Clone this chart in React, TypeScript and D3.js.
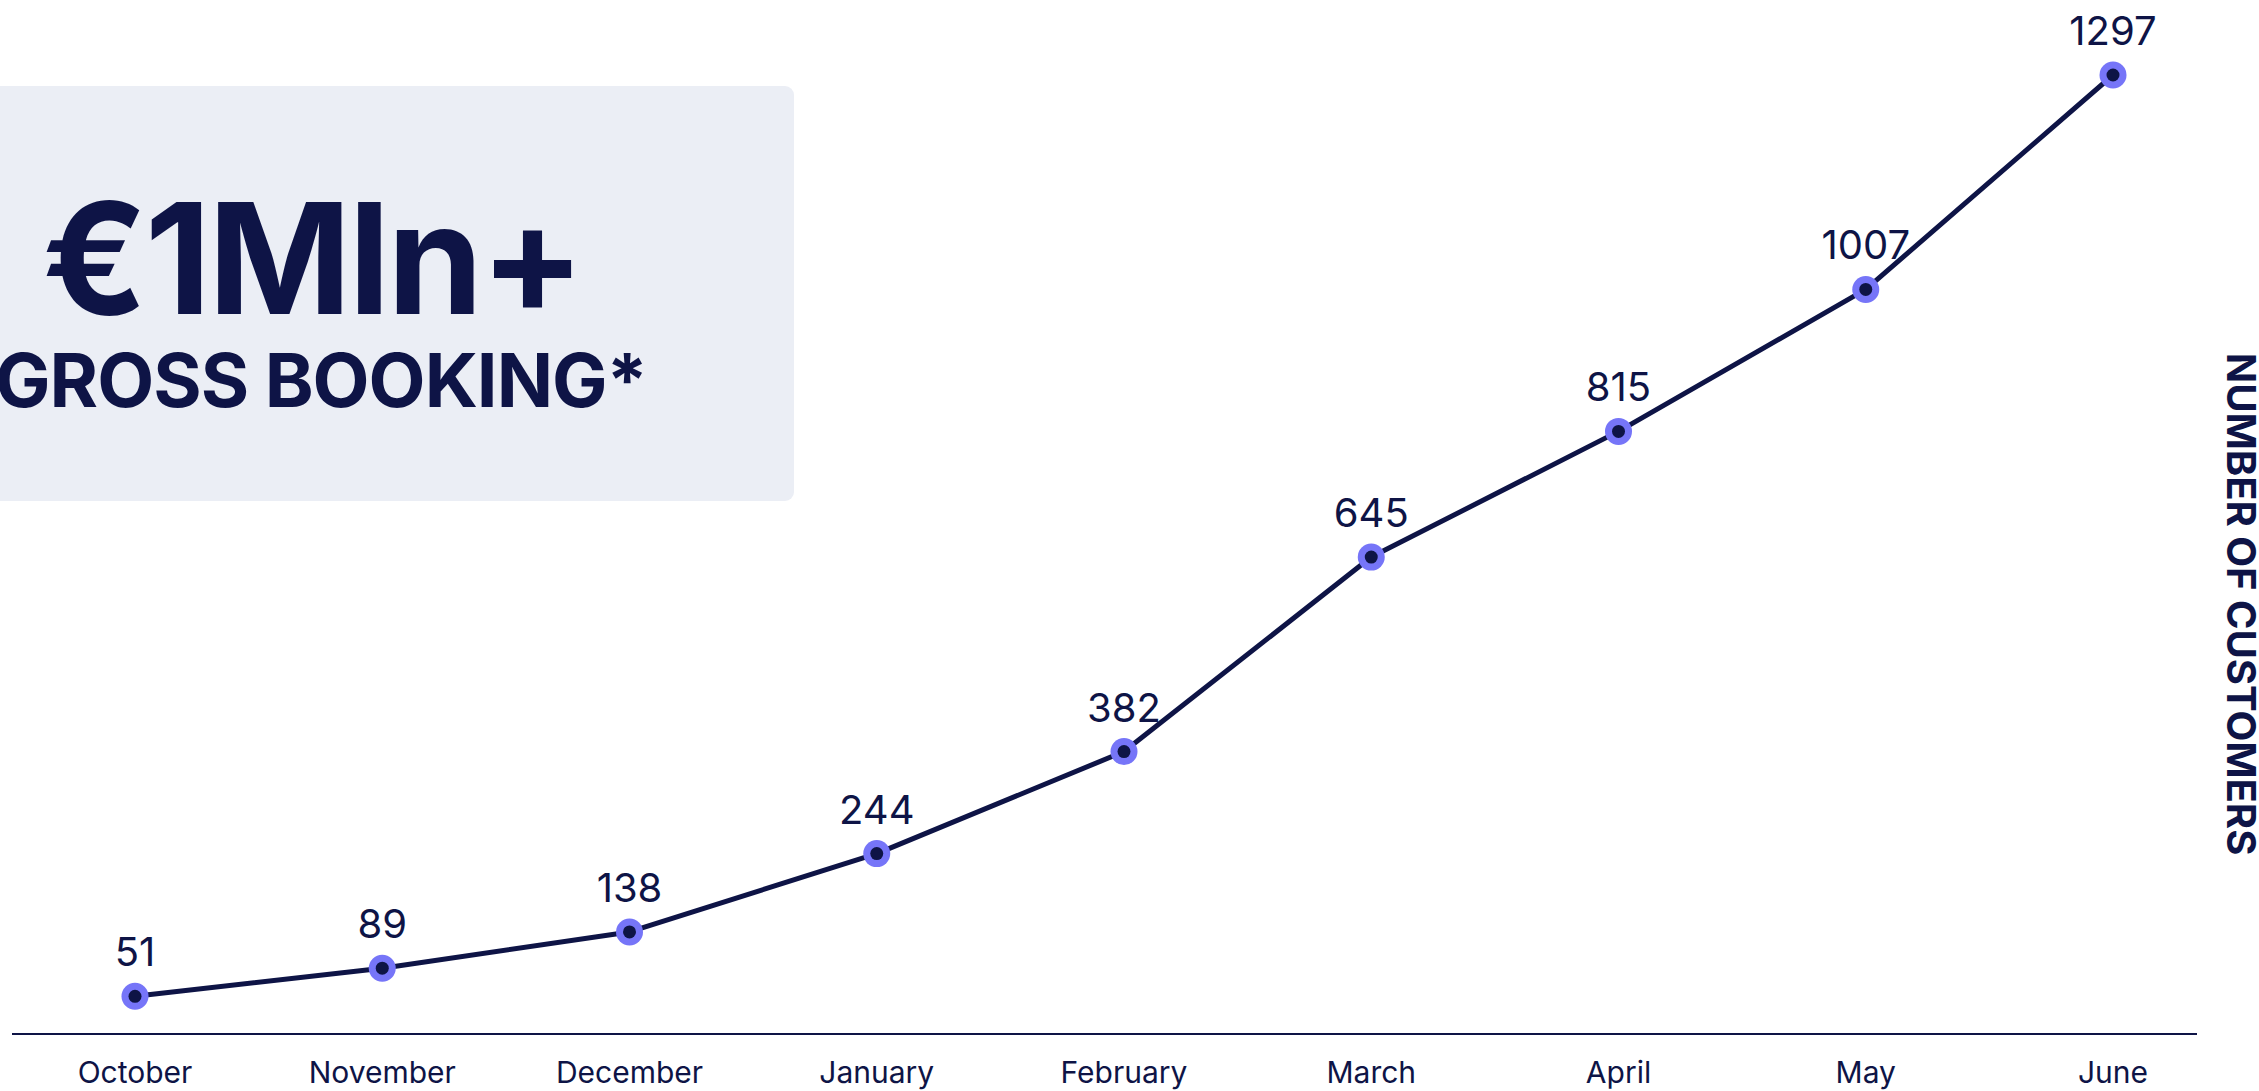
import React, { useEffect, useRef } from "react";
import * as d3 from "d3";

// months on the x axis
const months = [
  "October",
  "November",
  "December",
  "January",
  "February",
  "March",
  "April",
  "May",
  "June",
];

// number of customers per month
const customers = [51, 89, 138, 244, 382, 645, 815, 1007, 1297];

const headline = "€1Mln+";
const subline = "GROSS BOOKING*";
const axisTitle = "NUMBER OF CUSTOMERS";

const NAVY = "#0e1446";
const PURPLE = "#7675f8";
const BOX = "#ebeef5";

const App = () => {
  const ref = useRef<SVGSVGElement>(null);

  useEffect(() => {
    const width = 2259,
      height = 1091;
    const svg = d3.select(ref.current);
    svg.selectAll("*").remove();

    var x = d3.scalePoint<string>().domain(months).range([135, 2113]);
    var y = d3.scaleLinear().domain([0, 1297]).range([1034, 75]);

    // headline box on the left
    svg
      .append("rect")
      .attr("x", -170)
      .attr("y", 86)
      .attr("width", 964)
      .attr("height", 415)
      .attr("rx", 9)
      .attr("fill", BOX);

    svg
      .append("text")
      .attr("x", 312)
      .attr("y", 314)
      .attr("text-anchor", "middle")
      .attr("font-family", "Inter, sans-serif")
      .attr("font-weight", 700)
      .attr("font-size", 154)
      .attr("letter-spacing", -3)
      .attr("fill", NAVY)
      .text(headline);

    svg
      .append("text")
      .attr("x", 321)
      .attr("y", 407)
      .attr("text-anchor", "middle")
      .attr("font-family", "Inter, sans-serif")
      .attr("font-weight", 700)
      .attr("font-size", 74)
      .attr("letter-spacing", -1)
      .attr("fill", NAVY)
      .text(subline);

    // baseline
    svg
      .append("line")
      .attr("x1", 12)
      .attr("x2", 2197)
      .attr("y1", y(0))
      .attr("y2", y(0))
      .attr("stroke", NAVY)
      .attr("stroke-width", 2);

    // month labels
    svg
      .append("g")
      .selectAll("text")
      .data(months)
      .enter()
      .append("text")
      .attr("x", (d) => x(d) as number)
      .attr("y", 1083)
      .attr("text-anchor", "middle")
      .attr("font-family", "Inter, sans-serif")
      .attr("font-size", 30)
      .attr("fill", NAVY)
      .text((d) => d);

    const data = months.map((m, i) => ({ month: m, value: customers[i] }));

    var valueLine = d3
      .line<{ month: string; value: number }>()
      .x((d) => x(d.month) as number)
      .y((d) => y(d.value));

    svg
      .append("path")
      .datum(data)
      .attr("fill", "none")
      .attr("stroke", NAVY)
      .attr("stroke-width", 5)
      .attr("stroke-linejoin", "round")
      .attr("d", valueLine);

    svg
      .selectAll("circle.outer")
      .data(data)
      .enter()
      .append("circle")
      .attr("class", "outer")
      .attr("cx", (d) => x(d.month) as number)
      .attr("cy", (d) => y(d.value))
      .attr("r", 13.5)
      .attr("fill", PURPLE);

    svg
      .selectAll("circle.inner")
      .data(data)
      .enter()
      .append("circle")
      .attr("class", "inner")
      .attr("cx", (d) => x(d.month) as number)
      .attr("cy", (d) => y(d.value))
      .attr("r", 6.5)
      .attr("fill", NAVY);

    // value labels
    svg
      .append("g")
      .selectAll("text")
      .data(data)
      .enter()
      .append("text")
      .attr("x", (d) => x(d.month) as number)
      .attr("y", (d) => y(d.value) - 30)
      .attr("text-anchor", "middle")
      .attr("font-family", "Inter, sans-serif")
      .attr("font-size", 40)
      .attr("fill", NAVY)
      .text((d) => d.value);

    // right side title, reading top to bottom
    svg
      .append("text")
      .attr("transform", `translate(2227, 604) rotate(90)`)
      .attr("text-anchor", "middle")
      .attr("font-family", "Inter, sans-serif")
      .attr("font-weight", 700)
      .attr("font-size", 40)
      .attr("fill", NAVY)
      .text(axisTitle);

    svg.attr("width", width).attr("height", height);
  }, []);

  return (
    <svg
      ref={ref}
      width={2259}
      height={1091}
      style={{ position: "absolute", left: 0, top: 0, background: "#fff" }}
    />
  );
};

export default App;
